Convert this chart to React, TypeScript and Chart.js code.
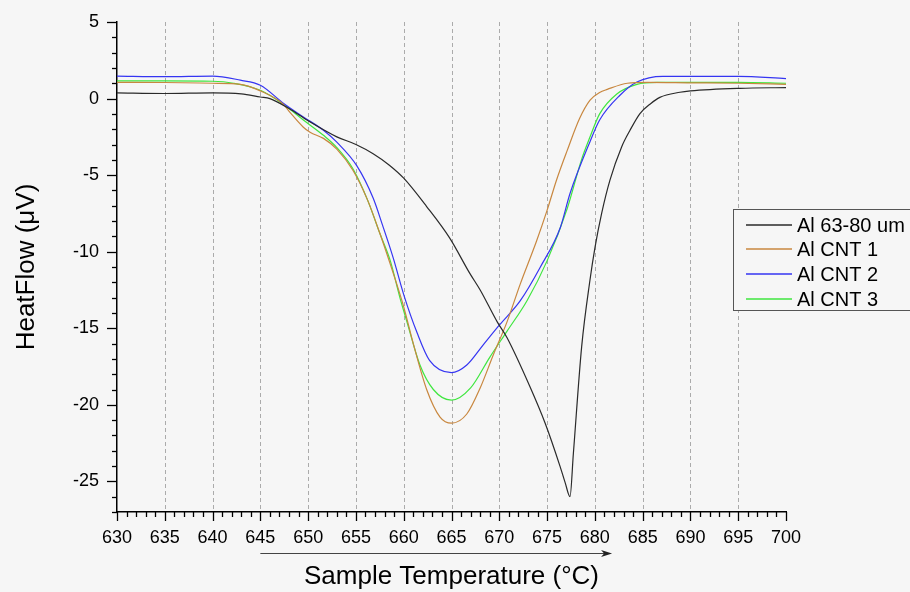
import React, { useEffect, useRef } from 'react';
import { Chart, registerables } from 'chart.js';

Chart.register(...registerables);

const seriesNames = ['Al 63-80 um', 'Al CNT 1', 'Al CNT 2', 'Al CNT 3'];
const seriesColors = ['#2a2a2a', '#c8873f', '#3535f2', '#3fe63f'];

const blackT = [630, 635, 640, 643, 645, 646, 648, 650, 653, 655, 656.8, 658.5, 660, 662.4, 664.8, 666.9, 668, 669.8, 670.8, 673.2, 674.8, 676.35, 676.9, 677.4, 677.75, 678.62, 679.49, 680.02, 680.71, 681.58, 682.8, 683.68, 684.72, 685.8, 686.8, 688.9, 690, 695.2, 700];
const blackV = [0.37, 0.33, 0.37, 0.3, 0.1, 0.0, -0.65, -1.45, -2.5, -3.0, -3.6, -4.35, -5.2, -7.05, -9.1, -11.4, -12.5, -14.6, -15.6, -18.8, -21.2, -24.0, -25.1, -26.0, -23.2, -16.2, -11.85, -9.7, -7.5, -5.33, -3.16, -2.07, -0.98, -0.35, 0.08, 0.41, 0.5, 0.67, 0.72];

const cnt1T = [630, 635, 640, 642.9, 645, 647.4, 648.1, 649.5, 650.2, 651.6, 653, 654.7, 656.2, 657.5, 658.9, 660, 661, 662.4, 663.8, 665, 666.6, 668, 669.4, 670.8, 672.2, 673.9, 675, 676, 677.1, 678.4, 679.5, 680.5, 681.3, 683.4, 685.5, 690, 695, 700];
const cnt1V = [1.06, 1.05, 1.0, 0.93, 0.5, -0.37, -0.9, -1.87, -2.2, -2.6, -3.3, -4.7, -6.6, -8.8, -11.4, -13.6, -16.0, -19.0, -20.8, -21.2, -20.6, -18.9, -16.7, -14.6, -12.1, -9.3, -7.3, -5.3, -3.4, -1.3, -0.1, 0.4, 0.6, 1.0, 1.06, 1.03, 1.0, 0.93];

const cnt2T = [630, 635, 640, 642.9, 645, 647.4, 649.5, 651.6, 653, 655.1, 656.8, 657.8, 658.9, 660, 661.4, 662.7, 665, 666.6, 668.3, 670, 672.2, 674.3, 676.4, 677.4, 679.5, 680.5, 682.6, 684.4, 687.1, 695, 700];
const cnt2V = [1.47, 1.43, 1.47, 1.2, 0.87, -0.3, -1.2, -2.07, -2.85, -4.4, -6.5, -8.3, -10.4, -12.8, -15.3, -17.1, -17.9, -17.4, -16.1, -14.8, -13.2, -11.0, -8.4, -6.2, -2.8, -1.4, 0.2, 1.08, 1.45, 1.45, 1.3];

const cnt3T = [630, 635, 640, 642.2, 645, 647.4, 649.5, 651.6, 653, 654.7, 656.2, 657.5, 658.6, 659.6, 660.3, 661.7, 663.1, 665, 667, 669, 670.8, 672.9, 675, 677.1, 678.6, 679.5, 680.5, 682.3, 684.4, 686.5, 695, 700];
const cnt3V = [1.15, 1.15, 1.13, 1.0, 0.54, -0.37, -1.4, -2.4, -3.2, -4.6, -6.6, -8.8, -10.6, -13.0, -14.5, -17.4, -19.0, -19.7, -18.9, -16.9, -15.2, -13.2, -10.6, -7.2, -4.0, -2.5, -1.0, 0.3, 0.93, 1.06, 1.06, 1.0];

const xMin = 630;
const xMax = 700;
const yMin = -27;
const yMax = 5;
const gridValues = [635, 640, 645, 650, 655, 660, 665, 670, 675, 680, 685, 690, 695];
const arrowFrom = 645;
const arrowTo = 681.8;

const FONT = '"Liberation Sans", Arial, Helvetica, sans-serif';
const BG = '#f6f6f6';

const toPoints = (t: number[], v: number[]) => t.map((x, i) => ({ x, y: v[i] }));

const bgPlugin = {
  id: 'bg',
  beforeDraw(chart: any) {
    const { ctx, width, height } = chart;
    ctx.save();
    ctx.fillStyle = BG;
    ctx.fillRect(0, 0, width, height);
    ctx.restore();
  },
  beforeDatasetsDraw(chart: any) {
    const { ctx, chartArea } = chart;
    const xs = chart.scales.x;
    ctx.save();
    ctx.strokeStyle = '#ababab';
    ctx.lineWidth = 1;
    ctx.setLineDash([4, 3]);
    gridValues.forEach((v) => {
      const px = Math.round(xs.getPixelForValue(v)) + 0.5;
      ctx.beginPath();
      ctx.moveTo(px, chartArea.top);
      ctx.lineTo(px, chartArea.bottom);
      ctx.stroke();
    });
    ctx.restore();
  },
};

const extrasPlugin = {
  id: 'extras',
  afterDraw(chart: any) {
    const { ctx, chartArea } = chart;
    const xs = chart.scales.x;
    const ys = chart.scales.y;
    ctx.save();
    ctx.strokeStyle = '#000';
    ctx.lineWidth = 1.3;
    ctx.setLineDash([]);
    for (let v = xMin; v <= xMax; v++) {
      const px = Math.round(xs.getPixelForValue(v)) + 0.5;
      const len = v % 5 === 0 ? 9 : 5;
      ctx.beginPath();
      ctx.moveTo(px, chartArea.bottom);
      ctx.lineTo(px, chartArea.bottom + len);
      ctx.stroke();
    }
    for (let v = yMin; v <= yMax; v++) {
      const py = Math.round(ys.getPixelForValue(v)) + 0.5;
      const len = v % 5 === 0 ? 10 : 5;
      ctx.beginPath();
      ctx.moveTo(chartArea.left - len, py);
      ctx.lineTo(chartArea.left, py);
      ctx.stroke();
    }
    const ay = 553.5;
    const ax0 = xs.getPixelForValue(arrowFrom);
    const ax1 = xs.getPixelForValue(arrowTo);
    ctx.strokeStyle = '#444';
    ctx.fillStyle = '#222';
    ctx.lineWidth = 1;
    ctx.beginPath();
    ctx.moveTo(ax0, ay);
    ctx.lineTo(ax1 - 8, ay);
    ctx.stroke();
    ctx.beginPath();
    ctx.moveTo(ax1, ay);
    ctx.lineTo(ax1 - 11, ay - 3.5);
    ctx.lineTo(ax1 - 8, ay);
    ctx.lineTo(ax1 - 11, ay + 3.5);
    ctx.closePath();
    ctx.fill();

    const lx = 733.5;
    const ly = 209.5;
    ctx.fillStyle = BG;
    ctx.fillRect(lx, ly, 200, 101);
    ctx.strokeStyle = '#555';
    ctx.lineWidth = 1;
    ctx.strokeRect(lx, ly, 200, 101);
    const rowY = [225, 249, 274, 299];
    ctx.font = `20px ${FONT}`;
    ctx.textBaseline = 'middle';
    ctx.textAlign = 'left';
    seriesNames.forEach((name, i) => {
      ctx.strokeStyle = seriesColors[i];
      ctx.lineWidth = 1.4;
      ctx.beginPath();
      ctx.moveTo(746, rowY[i]);
      ctx.lineTo(792, rowY[i]);
      ctx.stroke();
      ctx.fillStyle = '#000';
      ctx.fillText(name, 797, rowY[i] + 1);
    });
    ctx.restore();
  },
};

export default function App() {
  const ref = useRef<HTMLCanvasElement | null>(null);

  useEffect(() => {
    document.body.style.margin = '0';
    document.body.style.background = BG;
    const canvas = ref.current;
    if (!canvas) return;
    Chart.defaults.font.family = FONT;
    const sets = [
      [blackT, blackV],
      [cnt1T, cnt1V],
      [cnt2T, cnt2V],
      [cnt3T, cnt3V],
    ];
    const chart = new Chart(canvas, {
      type: 'line',
      data: {
        datasets: sets.map(([t, v], i) => ({
          label: seriesNames[i],
          data: toPoints(t as number[], v as number[]),
          borderColor: seriesColors[i],
          backgroundColor: seriesColors[i],
          borderWidth: 1.2,
          pointRadius: 0,
          fill: false,
          cubicInterpolationMode: 'monotone' as const,
        })),
      },
      options: {
        responsive: false,
        animation: false,
        events: [],
        layout: { padding: { top: 22, right: 124, bottom: 0, left: 0 } },
        plugins: {
          legend: { display: false },
          tooltip: { enabled: false },
        },
        scales: {
          x: {
            type: 'linear',
            min: xMin,
            max: xMax,
            afterFit(scale: any) {
              scale.height = 80;
            },
            ticks: {
              stepSize: 5,
              padding: 15,
              color: '#000',
              font: { size: 18 },
              maxRotation: 0,
              includeBounds: false,
            },
            grid: { display: false, drawTicks: false },
            border: { display: true, color: '#000', width: 1.5 },
            title: {
              display: true,
              text: 'Sample Temperature (°C)',
              color: '#000',
              font: { size: 26 },
              padding: { top: 0, bottom: 0 },
            },
          },
          y: {
            type: 'linear',
            min: yMin,
            max: yMax,
            afterFit(scale: any) {
              scale.width = 117;
              scale.paddingTop = 0;
              scale.paddingBottom = 0;
            },
            ticks: {
              stepSize: 5,
              padding: 18,
              color: '#000',
              font: { size: 18 },
              includeBounds: false,
            },
            grid: { display: false, drawTicks: false },
            border: { display: true, color: '#000', width: 1.5 },
            title: {
              display: true,
              text: 'HeatFlow (μV)',
              color: '#000',
              font: { size: 26 },
              padding: { top: 11, bottom: 0 },
            },
          },
        },
      },
      plugins: [bgPlugin, extrasPlugin],
    });
    return () => chart.destroy();
  }, []);

  return (
    <div style={{ width: 910, height: 592, background: BG }}>
      <canvas ref={ref} width={910} height={592} style={{ display: 'block' }} />
    </div>
  );
}
